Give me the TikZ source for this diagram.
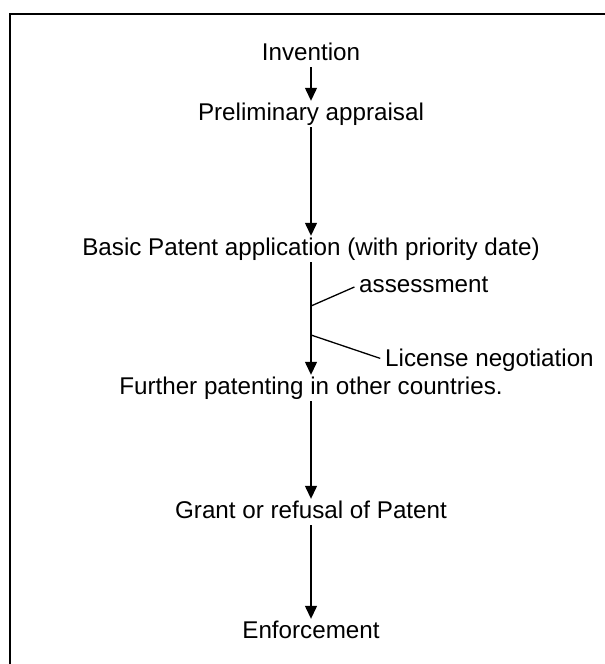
\documentclass[tikz,border=0pt]{standalone}
\usepackage{fontspec}
\setmainfont{Liberation Sans}
\usetikzlibrary{positioning,arrows.meta}

\begin{document}
\begin{tikzpicture}[
  x=1pt,y=-1pt,
  font=\fontsize{24.2}{28}\selectfont,
  stage/.style={inner sep=0pt,anchor=base,text height=17pt,text depth=5pt},
  note/.style={inner sep=0pt,anchor=west},
  arr/.style={-{Triangle[width=12pt,length=13pt]},line width=1.3pt,shorten <=2pt,shorten >=2pt},
  branch/.style={line width=1.3pt,shorten >=5pt}
]
\useasboundingbox (0,0) rectangle (605,664);
\draw[line width=1.6pt] (10,664) -- (10,14) -- (605,14);
\node[stage] (inv) at (311,60) {Invention};
\node[stage] (pre) at (311,120) {Preliminary appraisal};
\node[stage] (bas) at (311,255) {Basic Patent application (with priority date)};
\node[stage] (fur) at (311,394) {Further patenting in other countries.};
\node[stage] (gra) at (311,518) {Grant or refusal of Patent};
\node[stage] (enf) at (311,638) {Enforcement};
\draw[arr] (inv.south) -- (pre.north);
\draw[arr] (pre.south) -- (bas.north);
\draw[arr] (bas.south) -- (fur.north);
\draw[arr] (fur.south) -- (gra.north);
\draw[arr] (gra.south) -- (enf.north);
% side remarks on the long arrow
\coordinate (j1) at (311,306);
\coordinate (j2) at (311,335);
\node[note] (ass) at (359,285) {assessment};
\node[note] (lic) at (385,360) {License negotiation};
\draw[branch] (j1) -- (ass.west);
\draw[branch] (j2) -- (lic.west);
\end{tikzpicture}
\end{document}
